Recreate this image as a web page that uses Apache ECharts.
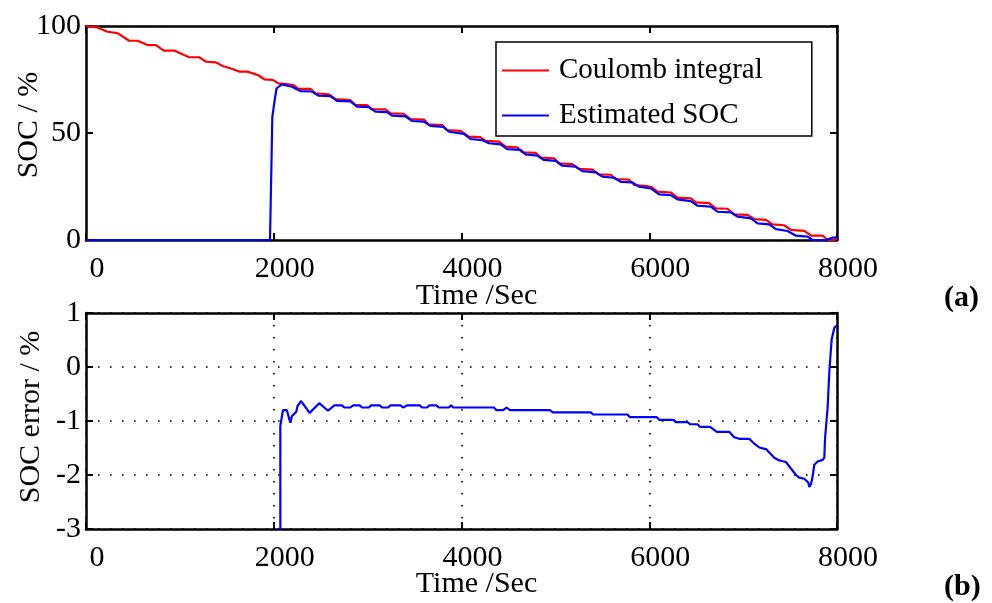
<!DOCTYPE html>
<html>
<head>
<meta charset="utf-8">
<script src="https://cdn.jsdelivr.net/npm/echarts@6/dist/echarts.min.js"></script>
<style>html,body{margin:0;padding:0;background:#fff}#c{width:992px;height:603px}</style>
</head>
<body>
<div id="c"></div>
<script>
// ---- data ----
var xTicks = [0, 2000, 4000, 6000, 8000];
var socTicks = [0, 50, 100];
var errTicks = [-3, -2, -1, 0, 1];
var seriesNames = ['Coulomb integral', 'Estimated SOC'];

var coulomb = [
  [0,100],[120,99.3],[230,97.3],[335,96.7],[460,93.1],[550,93.1],[655,91.1],[745,91.1],
  [830,88.5],[940,88.5],[1045,86.4],[1100,85.4],[1205,85.4],[1280,83.3],[1385,83.0],
  [1455,81.3],[1560,79.9],[1630,78.7],[1720,78.7],[1830,77.1],[1900,75.1],[1990,74.8],
  [2050,73.2],[2120,73.0],[2210,72.4],[2265,70.6],[2390,70.6],[2445,68.5],[2585,68.1],
  [2655,65.9],[2815,65.4],[2870,63.1],[2995,63.0],[3045,61.2],[3190,61.0],[3245,59.2],
  [3385,59.0],[3455,56.5],[3600,56.3],[3650,54.0],[3795,53.7],[3845,51.4],[3990,51.0],
  [4078,48.3],[4200,48.1],[4255,46.3],[4400,46.0],[4470,43.6],[4595,43.3],[4645,41.0],
  [4790,40.7],[4845,38.5],[4985,38.2],[5040,35.8],[5180,35.5],[5250,33.2],[5395,32.9],
  [5465,30.7],[5590,30.5],[5645,28.5],[5785,28.2],[5840,25.7],[5980,25.2],[6030,24.6],
  [6087,22.6],[6229,22.2],[6300,19.8],[6443,19.5],[6496,17.6],[6638,17.2],[6709,14.8],
  [6834,14.6],[6905,12.0],[7047,11.7],[7118,9.8],[7243,9.4],[7314,7.3],[7438,6.9],
  [7509,4.7],[7652,4.3],[7723,2.0],[7848,2.0],[7900,0],[7960,0],[8000,0.6]
];

var estimated = [
  [0,0],[1960,0],[1985,57.6],[2000,58.0],[2010,65.4],[2030,70.9],[2087,72.7],[2194,71.6],
  [2283,69.6],[2407,69.4],[2478,67.4],[2603,67.2],[2674,65.0],[2816,64.8],[2887,62.3],
  [3012,62.1],[3083,60.0],[3207,59.8],[3260,58.1],[3403,57.8],[3474,55.6],[3598,55.3],
  [3669,53.3],[3805,52.9],[3865,50.6],[4025,49.6],[4096,47.2],[4220,46.7],[4292,45.2],
  [4416,44.7],[4487,42.5],[4629,42.1],[4683,40.0],[4807,39.4],[4878,37.4],[5003,37.0],
  [5074,34.7],[5216,34.3],[5287,32.2],[5429,31.6],[5500,29.6],[5625,29.1],[5696,27.2],
  [5820,26.9],[5892,24.9],[6016,24.1],[6105,21.3],[6229,21.0],[6300,19.0],[6443,18.2],
  [6514,16.0],[6656,15.6],[6727,13.2],[6869,12.9],[6940,10.9],[7083,10.1],[7154,7.8],
  [7278,7.3],[7349,5.1],[7474,4.2],[7563,2.0],[7687,1.6],[7741,0],[7883,0],[7954,1.1],
  [8000,1.2]
];

var socError = [
  [2070,-3.3],[2070,-1.09],[2085,-1.06],[2098,-0.80],[2140,-0.80],[2176,-1.03],[2194,-0.91],
  [2240,-0.83],[2254,-0.72],[2290,-0.63],[2382,-0.85],[2485,-0.67],[2578,-0.81],[2645,-0.71],
  [2727,-0.71],[2752,-0.75],[2816,-0.75],[2845,-0.71],[2916,-0.71],[2940,-0.75],[3012,-0.75],
  [3037,-0.71],[3129,-0.71],[3154,-0.75],[3218,-0.75],[3243,-0.71],[3349,-0.71],[3378,-0.75],
  [3395,-0.75],[3420,-0.71],[3555,-0.71],[3580,-0.75],[3633,-0.75],[3659,-0.71],[3733,-0.71],
  [3758,-0.75],[3865,-0.75],[3890,-0.71],[3911,-0.75],[4345,-0.75],[4373,-0.80],[4444,-0.80],
  [4480,-0.75],[4516,-0.80],[4942,-0.80],[4971,-0.84],[5376,-0.84],[5405,-0.88],[5767,-0.88],
  [5795,-0.93],[6080,-0.93],[6109,-0.98],[6258,-0.98],[6283,-1.02],[6407,-1.02],[6435,-1.06],
  [6514,-1.06],[6542,-1.11],[6649,-1.11],[6720,-1.20],[6852,-1.20],[6905,-1.30],[6958,-1.33],
  [7065,-1.33],[7125,-1.43],[7172,-1.49],[7243,-1.52],[7332,-1.68],[7385,-1.73],[7456,-1.76],
  [7509,-1.88],[7563,-2.00],[7598,-2.05],[7652,-2.07],[7694,-2.14],[7705,-2.22],[7723,-2.17],
  [7741,-2.02],[7758,-1.81],[7794,-1.75],[7848,-1.72],[7865,-1.68],[7872,-1.34],[7893,-1.31],
  [7900,-0.75],[7919,-0.73],[7919,-0.07],[7936,-0.04],[7943,0.51],[7961,0.54],[7972,0.73],
  [7995,0.76]
];

// ---- chart ----
var FONT = '"Liberation Serif", "Times New Roman", serif';
var FS = 30;
var chart = echarts.init(document.getElementById('c'), null, {renderer: 'canvas'});

function first(a){ return a[0]; }
function last(a){ return a[a.length - 1]; }

var frameLine = {show: true, onZero: false, lineStyle: {color: '#000', width: 2.5}};
var tickIn = {show: true, inside: true, length: 7, lineStyle: {color: '#000', width: 2}};
var dotted = {show: true, lineStyle: {color: '#000', width: 1.6, type: [1.6, 10.4]}};

function xLabel() {
  return {
    show: true, margin: 14, color: '#000',
    formatter: function (v) { return '{a|' + v + '}'; },
    rich: {a: {fontFamily: FONT, fontSize: FS, color: '#000', padding: [0, 0, 0, 22]}}
  };
}
function yLabel() {
  return {show: true, margin: 5, color: '#000', fontFamily: FONT, fontSize: FS};
}

var xmin = first(xTicks), xmax = last(xTicks), xint = xTicks[1] - xTicks[0];

var option = {
  animation: false,
  backgroundColor: '#fff',
  grid: [
    {left: 86, top: 26, width: 751, height: 214, show: false, containLabel: false, outerBoundsMode: 'none'},
    {left: 86, top: 313, width: 751, height: 216, show: false, containLabel: false, outerBoundsMode: 'none'}
  ],
  xAxis: [
    {type: 'value', gridIndex: 0, position: 'bottom', min: xmin, max: xmax, interval: xint,
      axisLine: frameLine, axisTick: tickIn, axisLabel: xLabel(), splitLine: {show: false},
      name: 'Time /Sec', nameLocation: 'middle', nameGap: 41, nameMoveOverlap: false,
      nameTextStyle: {fontFamily: FONT, fontSize: FS, color: '#000', padding: [0, 0, 0, 30]}},
    {type: 'value', gridIndex: 0, position: 'top', min: xmin, max: xmax, interval: xint,
      axisLine: frameLine, axisTick: tickIn, axisLabel: {show: false}, splitLine: {show: false}},
    {type: 'value', gridIndex: 1, position: 'bottom', min: xmin, max: xmax, interval: xint,
      axisLine: frameLine, axisTick: tickIn, axisLabel: xLabel(), splitLine: dotted,
      name: 'Time /Sec', nameLocation: 'middle', nameGap: 40, nameMoveOverlap: false,
      nameTextStyle: {fontFamily: FONT, fontSize: FS, color: '#000', padding: [0, 0, 0, 30]}},
    {type: 'value', gridIndex: 1, position: 'top', min: xmin, max: xmax, interval: xint,
      axisLine: frameLine, axisTick: tickIn, axisLabel: {show: false}, splitLine: {show: false}}
  ],
  yAxis: [
    {type: 'value', gridIndex: 0, position: 'left', min: first(socTicks), max: last(socTicks),
      interval: socTicks[1] - socTicks[0],
      axisLine: frameLine, axisTick: tickIn, axisLabel: yLabel(), splitLine: {show: false},
      name: 'SOC / %', nameLocation: 'middle', nameGap: 42, nameMoveOverlap: false,
      nameTextStyle: {fontFamily: FONT, fontSize: FS, color: '#000', padding: [0, 0, 0, 16]}},
    {type: 'value', gridIndex: 0, position: 'right', min: first(socTicks), max: last(socTicks),
      interval: socTicks[1] - socTicks[0],
      axisLine: frameLine, axisTick: tickIn, axisLabel: {show: false}, splitLine: {show: false}},
    {type: 'value', gridIndex: 1, position: 'left', min: first(errTicks), max: last(errTicks),
      interval: errTicks[1] - errTicks[0],
      axisLine: frameLine, axisTick: tickIn, axisLabel: yLabel(), splitLine: dotted,
      name: 'SOC error / %', nameLocation: 'middle', nameGap: 40, nameMoveOverlap: false,
      nameTextStyle: {fontFamily: FONT, fontSize: FS, color: '#000', padding: [0, 0, 0, 8]}},
    {type: 'value', gridIndex: 1, position: 'right', min: first(errTicks), max: last(errTicks),
      interval: errTicks[1] - errTicks[0],
      axisLine: frameLine, axisTick: tickIn, axisLabel: {show: false}, splitLine: {show: false}}
  ],
  legend: {
    show: true, orient: 'vertical', left: 496, top: 42,
    data: seriesNames,
    padding: [14, 49, 6, 6],
    itemWidth: 47, itemHeight: 14, itemGap: 16,
    borderColor: '#000', borderWidth: 1.5, backgroundColor: '#fff',
    textStyle: {fontFamily: FONT, fontSize: 29, color: '#000', padding: [0, 0, 0, 5]},
    icon: 'path://M0,6 L47,6 L47,8 L0,8 Z'
  },
  title: [
    {text: '(a)', left: 944, top: 283, textStyle: {fontFamily: FONT, fontSize: 30, fontWeight: 'bold', color: '#000'}, padding: 0},
    {text: '(b)', left: 944, top: 572, textStyle: {fontFamily: FONT, fontSize: 30, fontWeight: 'bold', color: '#000'}, padding: 0}
  ],
  series: [
    {name: seriesNames[0], type: 'line', xAxisIndex: 0, yAxisIndex: 0, data: coulomb,
      showSymbol: false, symbol: 'none', color: '#ff0000',
      lineStyle: {color: '#ff0000', width: 2.2}, z: 3},
    {name: seriesNames[1], type: 'line', xAxisIndex: 0, yAxisIndex: 0, data: estimated,
      showSymbol: false, symbol: 'none', color: '#0000ff',
      lineStyle: {color: '#0000ff', width: 2.2}, z: 4},
    {name: 'SOC error', type: 'line', xAxisIndex: 2, yAxisIndex: 2, data: socError,
      showSymbol: false, symbol: 'none', color: '#0000ff', clip: true,
      lineStyle: {color: '#0000ff', width: 2.2}, z: 4}
  ]
};
chart.setOption(option);
</script>
</body>
</html>
